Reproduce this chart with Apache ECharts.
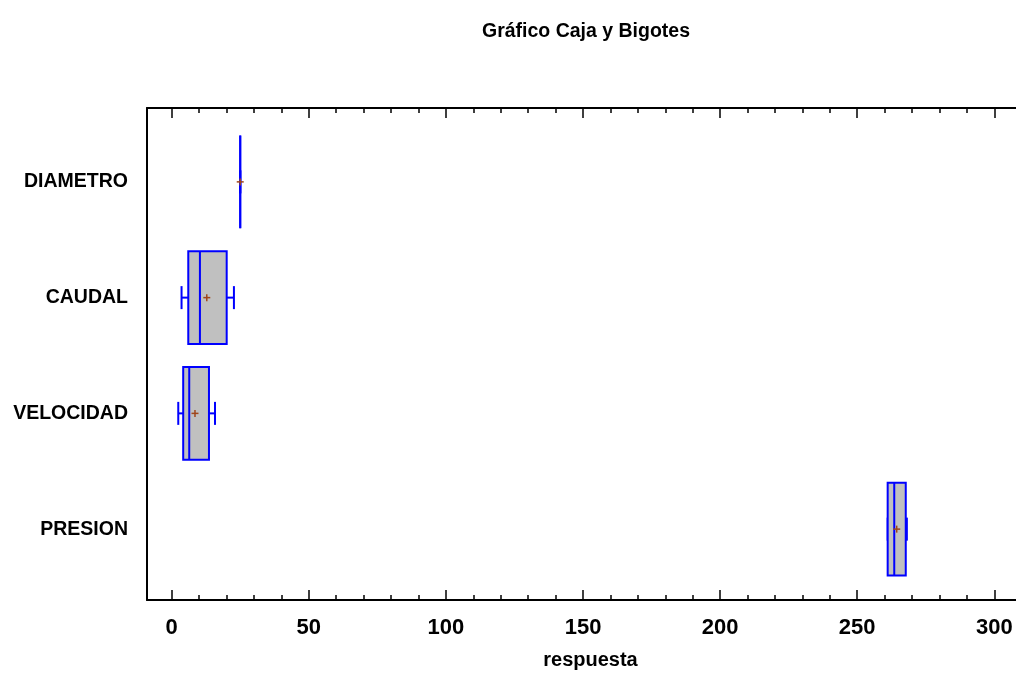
<!DOCTYPE html>
<html>
<head>
<meta charset="utf-8">
<script src="https://cdn.jsdelivr.net/npm/echarts@6/dist/echarts.min.js"></script>
<style>html,body{margin:0;padding:0;background:#fff}#c{width:1016px;height:675px}</style>
</head>
<body>
<div id="c"></div>
<script>
const categories = ['DIAMETRO', 'CAUDAL', 'VELOCIDAD', 'PRESION'];
const mins    = [25, 3.6, 2.4, 261.1];
const q1s     = [25, 6.05, 4.2, 261.1];
const medians = [25, 10.3, 6.4, 263.5];
const q3s     = [25, 20.06, 13.6, 267.7];
const maxs    = [25, 22.7, 15.8, 268.1];
const means   = [25, 12.8, 8.5, 264.4];
const majorTicks = [0, 50, 100, 150, 200, 250, 300];
const minorTicks = [10, 20, 30, 40, 60, 70, 80, 90, 110, 120, 130, 140, 160, 170, 180, 190, 210, 220, 230, 240, 260, 270, 280, 290];

const FONT = "'Liberation Sans Narrow', 'Arial Narrow', 'Liberation Sans', Arial, sans-serif";
const XMIN = -9.0, XMAX = 307.9;

const boxData = categories.map((c, i) => [i, mins[i], q1s[i], medians[i], q3s[i], maxs[i], means[i]]);

function renderBox(params, api) {
  const ci = api.value(0);
  const vmin = api.value(1), vq1 = api.value(2), vmed = api.value(3), vq3 = api.value(4), vmax = api.value(5), vmean = api.value(6);
  const band = api.size([0, 1])[1];
  const h = band * 0.8;
  const capH = 23;
  const pMin = api.coord([vmin, ci]);
  const pQ1 = api.coord([vq1, ci]);
  const pMed = api.coord([vmed, ci]);
  const pQ3 = api.coord([vq3, ci]);
  const pMax = api.coord([vmax, ci]);
  const pMean = api.coord([vmean, ci]);
  const y = pQ1[1];
  const blue = '#0000ff';
  const lw = 2;
  const children = [];
  children.push({type: 'line', shape: {x1: pMin[0], y1: y, x2: pQ1[0], y2: y}, style: {stroke: blue, lineWidth: lw}});
  children.push({type: 'line', shape: {x1: pQ3[0], y1: y, x2: pMax[0], y2: y}, style: {stroke: blue, lineWidth: lw}});
  children.push({type: 'line', shape: {x1: pMin[0], y1: y - capH / 2, x2: pMin[0], y2: y + capH / 2}, style: {stroke: blue, lineWidth: lw}});
  children.push({type: 'line', shape: {x1: pMax[0], y1: y - capH / 2, x2: pMax[0], y2: y + capH / 2}, style: {stroke: blue, lineWidth: lw}});
  children.push({type: 'rect', shape: {x: pQ1[0], y: y - h / 2, width: pQ3[0] - pQ1[0], height: h}, style: {fill: '#c0c0c0', stroke: blue, lineWidth: lw}});
  children.push({type: 'line', shape: {x1: pMed[0], y1: y - h / 2, x2: pMed[0], y2: y + h / 2}, style: {stroke: blue, lineWidth: lw}});
  const m = 3.5;
  const brown = '#a0461a';
  children.push({type: 'line', shape: {x1: pMean[0] - m, y1: y, x2: pMean[0] + m, y2: y}, style: {stroke: brown, lineWidth: 1.5}});
  children.push({type: 'line', shape: {x1: pMean[0], y1: y - m, x2: pMean[0], y2: y + m}, style: {stroke: brown, lineWidth: 1.5}});
  return {type: 'group', children: children};
}

const chart = echarts.init(document.getElementById('c'));
const frameLine = {show: true, onZero: false, lineStyle: {color: '#000', width: 2}};
chart.setOption({
  animation: false,
  title: {
    text: 'Gráfico Caja y Bigotes',
    left: 581, top: 17, textAlign: 'center',
    textStyle: {fontFamily: FONT, fontWeight: 'bold', fontSize: 19.5, color: '#000'}
  },
  grid: [
    {left: 147, top: 108, right: 0, bottom: 73, containLabel: false},
    {left: 147, top: 124, right: 0, bottom: 88, containLabel: false}
  ],
  xAxis: [
    {
      gridIndex: 0, type: 'value', position: 'bottom', min: XMIN, max: XMAX,
      axisLine: frameLine,
      axisTick: {show: true, inside: true, length: 10, customValues: majorTicks, lineStyle: {color: '#000', width: 1.5}},
      axisLabel: {show: true, customValues: majorTicks, margin: 17, fontFamily: FONT, fontWeight: 'bold', fontSize: 22, color: '#000'},
      splitLine: {show: false},
      name: 'respuesta', nameLocation: 'middle', nameGap: 50,
      nameTextStyle: {fontFamily: FONT, fontWeight: 'bold', fontSize: 20, color: '#000', padding: [0, 0, 0, 18]}
    },
    {
      gridIndex: 0, type: 'value', position: 'bottom', min: XMIN, max: XMAX,
      axisLine: {show: false, onZero: false},
      axisTick: {show: true, inside: true, length: 5, customValues: minorTicks, lineStyle: {color: '#000', width: 1.5}},
      axisLabel: {show: false}, splitLine: {show: false}
    },
    {
      gridIndex: 0, type: 'value', position: 'top', min: XMIN, max: XMAX,
      axisLine: frameLine,
      axisTick: {show: true, inside: true, length: 10, customValues: majorTicks, lineStyle: {color: '#000', width: 1.5}},
      axisLabel: {show: false}, splitLine: {show: false}
    },
    {
      gridIndex: 0, type: 'value', position: 'top', min: XMIN, max: XMAX,
      axisLine: {show: false, onZero: false},
      axisTick: {show: true, inside: true, length: 5, customValues: minorTicks, lineStyle: {color: '#000', width: 1.5}},
      axisLabel: {show: false}, splitLine: {show: false}
    },
    {
      gridIndex: 1, type: 'value', min: XMIN, max: XMAX, show: false
    }
  ],
  yAxis: [
    {
      gridIndex: 0, type: 'value', min: 0, max: 1, position: 'left',
      axisLine: frameLine,
      axisTick: {show: false}, axisLabel: {show: false}, splitLine: {show: false}
    },
    {
      gridIndex: 1, type: 'category', data: categories, inverse: true, position: 'left',
      axisLine: {show: false, onZero: false}, axisTick: {show: false}, splitLine: {show: false},
      axisLabel: {margin: 19, fontFamily: FONT, fontWeight: 'bold', fontSize: 19.5, color: '#000'}
    }
  ],
  series: [{
    type: 'custom',
    xAxisIndex: 4, yAxisIndex: 1,
    renderItem: renderBox,
    encode: {x: [1, 2, 3, 4, 5, 6], y: 0},
    data: boxData,
    clip: false
  }]
});
</script>
</body>
</html>
